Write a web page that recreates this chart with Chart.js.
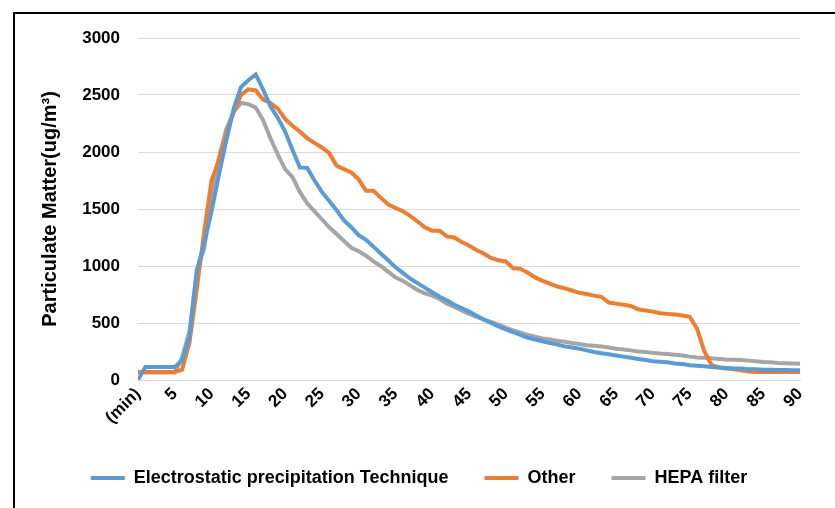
<!DOCTYPE html>
<html lang="en">
<head>
    <meta charset="UTF-8">
    <title>Particulate Matter</title>
    <script src="https://cdn.jsdelivr.net/npm/chart.js"></script>
    <style>
        body {
            margin: 0;
            background: #fff;
            font-family: 'Liberation Sans', Arial, sans-serif;
        }
        .wrap {
            position: relative;
            width: 835px;
            height: 508px;
            overflow: hidden;
        }
        .frame {
            position: absolute;
            left: 13px;
            top: 12px;
            width: 900px;
            height: 600px;
            border-left: 2px solid #000;
            border-top: 2px solid #000;
        }
        canvas {
            position: absolute;
            left: 0;
            top: 0;
        }
    </style>
</head>
<body>
    <div class="wrap">
        <div class="frame"></div>
        <canvas id="pm-chart" width="835" height="508"></canvas>
    </div>

    <script>
        // time in minutes
        const minutes = [];
        for (let m = 0; m <= 90; m++) minutes.push(m);

        const xTickLabels = ['(min)', '5', '10', '15', '20', '25', '30', '35', '40', '45',
                             '50', '55', '60', '65', '70', '75', '80', '85', '90'];

        const electrostatic = [
            0, 115, 115, 115, 115, 115, 170, 380, 960, 1200,
            1480, 1800, 2100, 2380, 2570, 2630, 2680, 2550, 2400, 2300,
            2180, 2020, 1865, 1860, 1750, 1650, 1570, 1490, 1400, 1340,
            1270, 1230, 1170, 1110, 1050, 990, 940, 890, 850, 810,
            770, 730, 700, 660, 630, 600, 565, 530, 500, 470,
            445, 420, 395, 370, 355, 340, 325, 310, 295, 285,
            275, 260, 245, 235, 225, 215, 205, 195, 185, 175,
            165, 160, 155, 145, 140, 130, 125, 120, 115, 110,
            105, 100, 100, 95, 95, 90, 90, 88, 88, 85,
            85
        ];

        const other = [
            70, 70, 70, 70, 70, 70, 90, 330, 800, 1300,
            1750, 1930, 2150, 2350, 2500, 2550, 2540, 2460, 2430, 2380,
            2290, 2230, 2180, 2120, 2080, 2040, 1990, 1880, 1850, 1820,
            1760, 1660, 1660, 1600, 1540, 1510, 1480, 1440, 1390, 1340,
            1310, 1310, 1260, 1250, 1210, 1180, 1140, 1110, 1070, 1050,
            1040, 980, 975, 940, 900, 870, 845, 820, 805, 785,
            765, 755, 740, 730, 680, 670, 660, 650, 620, 610,
            600, 585, 580, 575, 565, 555, 450, 250, 130, 110,
            100, 95, 85, 75, 70, 70, 70, 70, 70, 70,
            70
        ];

        const hepa = [
            65, 65, 65, 65, 65, 65, 200, 430, 960, 1150,
            1600, 1950, 2200, 2350, 2430, 2420, 2390, 2280, 2120, 1980,
            1850, 1780, 1650, 1550, 1480, 1410, 1340, 1280, 1220, 1160,
            1130, 1090, 1040, 1000, 950, 900, 870, 830, 790, 760,
            740, 710, 670, 640, 610, 580, 555, 530, 510, 485,
            460, 435, 415, 395, 380, 365, 355, 345, 335, 325,
            315, 305, 300, 295, 285, 275, 268, 260, 250, 245,
            238, 232, 228, 222, 215, 205, 198, 195, 190, 185,
            180, 178, 175, 170, 165, 158, 155, 150, 148, 145,
            143
        ];

        const toPoints = vals => vals.map((v, i) => ({ x: minutes[i], y: v }));

        const bold = size => ({ family: "'Liberation Sans', Arial, sans-serif", size: size, weight: 'bold' });

        const ctx = document.getElementById('pm-chart').getContext('2d');
        const pmChart = new Chart(ctx, {
            type: 'line',
            data: {
                datasets: [
                    {
                        label: 'Electrostatic precipitation Technique',
                        data: toPoints(electrostatic),
                        borderColor: '#5B9BD5',
                        backgroundColor: '#5B9BD5',
                        borderWidth: 4,
                        pointRadius: 0,
                        pointStyle: 'line',
                        tension: 0
                    },
                    {
                        label: 'Other',
                        data: toPoints(other),
                        borderColor: '#ED7D31',
                        backgroundColor: '#ED7D31',
                        borderWidth: 4,
                        pointRadius: 0,
                        pointStyle: 'line',
                        tension: 0
                    },
                    {
                        label: 'HEPA filter',
                        data: toPoints(hepa),
                        borderColor: '#A5A5A5',
                        backgroundColor: '#A5A5A5',
                        borderWidth: 4,
                        pointRadius: 0,
                        pointStyle: 'line',
                        tension: 0
                    }
                ]
            },
            options: {
                responsive: false,
                animation: false,
                layout: {
                    padding: { left: 38, right: 35, top: 38, bottom: 11 }
                },
                scales: {
                    x: {
                        type: 'linear',
                        min: 0,
                        max: 90,
                        afterFit: s => { s.height = 53; },
                        afterBuildTicks: s => {
                            s.ticks = xTickLabels.map((t, i) => ({ value: i * 5 }));
                        },
                        ticks: {
                            autoSkip: false,
                            maxRotation: 45,
                            minRotation: 45,
                            color: '#000',
                            font: bold(17),
                            padding: 4,
                            callback: (v, i) => xTickLabels[i]
                        },
                        grid: {
                            display: false,
                            drawTicks: false
                        },
                        border: {
                            display: true,
                            color: '#d9d9d9',
                            width: 1
                        }
                    },
                    y: {
                        min: 0,
                        max: 3000,
                        afterFit: s => { s.width = 100; },
                        ticks: {
                            stepSize: 500,
                            color: '#000',
                            font: bold(17),
                            padding: 18,
                            callback: v => String(v)
                        },
                        grid: {
                            color: '#d9d9d9',
                            lineWidth: 1,
                            drawTicks: false
                        },
                        border: { display: false },
                        title: {
                            display: true,
                            text: 'Particulate Matter(ug/m³)',
                            color: '#000',
                            font: bold(20),
                            padding: 0
                        }
                    }
                },
                plugins: {
                    legend: {
                        position: 'bottom',
                        labels: {
                            usePointStyle: true,
                            pointStyle: 'line',
                            pointStyleWidth: 34,
                            color: '#000',
                            font: bold(18),
                            padding: 36
                        }
                    },
                    tooltip: { enabled: false }
                }
            }
        });
    </script>
</body>
</html>
